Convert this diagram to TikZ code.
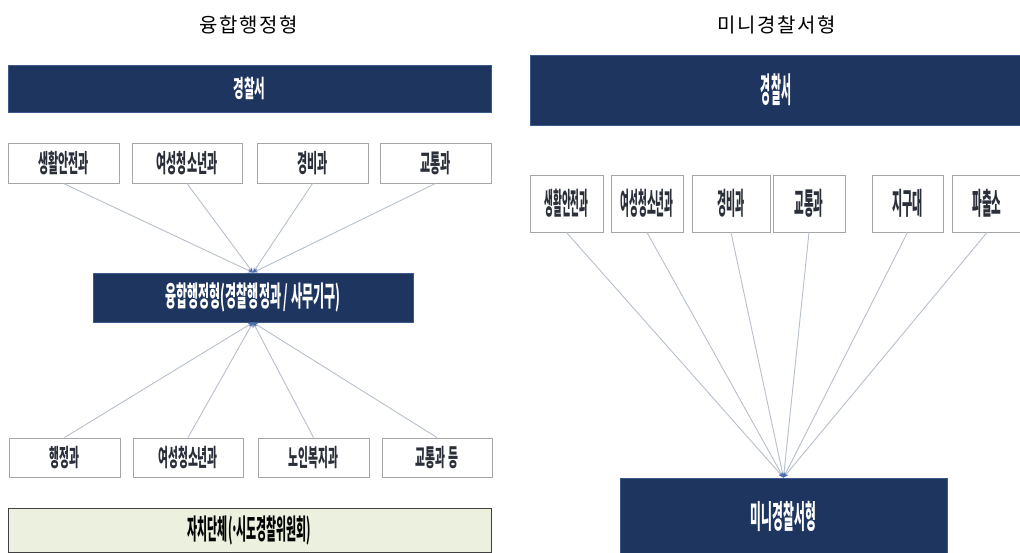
\documentclass[tikz,border=0pt]{standalone}
\usepackage{fontspec}
\usepackage{graphicx}
\newfontfamily\kr{Noto Sans CJK KR}
\usetikzlibrary{arrows.meta}
\definecolor{navy}{HTML}{1E355F}
\definecolor{navyedge}{HTML}{3A5A8C}
\definecolor{linkgray}{HTML}{B8C0CC}
\definecolor{tipblue}{HTML}{4A6FB5}
\definecolor{paleg}{HTML}{EBF1DE}
\definecolor{boxtext}{HTML}{2B2F3A}
\newcommand{\sq}[3]{\scalebox{#2}[1]{\fontsize{#1}{#1}\selectfont\kr\bfseries #3}}
\newcommand{\ttl}[1]{{\fontsize{20}{20}\selectfont\kr\addfontfeature{LetterSpace=8}#1}}
\tikzset{
  navybar/.style={rectangle, fill=navy, draw=navyedge, line width=0.8pt, text=white, inner sep=0pt},
  whitebox/.style={rectangle, draw=gray!70, fill=white, line width=0.9pt, inner sep=0pt, text=boxtext},
  greenbar/.style={rectangle, draw=black!75, fill=paleg, line width=1pt, inner sep=0pt, text=black},
  link/.style={draw=linkgray, line width=0.9pt, -{Stealth[length=5pt,width=4pt,color=tipblue]}},
  titletext/.style={inner sep=0pt, text=black}
}
\begin{document}
\begin{tikzpicture}[x=1pt,y=-1pt]
\useasboundingbox[fill=white] (0,0) rectangle (1020,553);
% ---------- left panel ----------
\node[titletext] (t1) at (249,25) {\ttl{융합행정형}};
\node[navybar, minimum width=483pt, minimum height=47pt] (ps1) at (249.5,88.5) {\sq{24}{0.48}{경찰서}};
\node[whitebox, minimum width=111pt, minimum height=40pt] (a1) at (63.5,163) {\sq{25}{0.44}{생활안전과}};
\node[whitebox, minimum width=110pt, minimum height=40pt] (a2) at (187,163) {\sq{25}{0.44}{여성청소년과}};
\node[whitebox, minimum width=111pt, minimum height=40pt] (a3) at (312.5,163) {\sq{25}{0.44}{경비과}};
\node[whitebox, minimum width=111pt, minimum height=40pt] (a4) at (435.5,163) {\sq{25}{0.44}{교통과}};
\node[navybar, minimum width=320pt, minimum height=49pt] (fus) at (253,297.5) {\sq{28}{0.43}{융합행정형(경찰행정과 / 사무기구)}};
\node[whitebox, minimum width=111pt, minimum height=39pt] (b1) at (64.5,457.5) {\sq{24}{0.45}{행정과}};
\node[whitebox, minimum width=110pt, minimum height=39pt] (b2) at (188,457.5) {\sq{24}{0.45}{여성청소년과}};
\node[whitebox, minimum width=111pt, minimum height=39pt] (b3) at (313.5,457.5) {\sq{24}{0.45}{노인복지과}};
\node[whitebox, minimum width=110pt, minimum height=39pt] (b4) at (437,457.5) {\sq{24}{0.45}{교통과 등}};
\node[greenbar, minimum width=483pt, minimum height=44pt] (gov) at (249.5,530.5) {\sq{28}{0.39}{자치단체(\kern-0.12em·\kern-0.12em시도경찰위원회)}};
\foreach \n in {a1,a2,a3,a4} \draw[link] (\n.south) -- (fus.north);
\foreach \n in {b1,b2,b3,b4} \draw[link] (\n.north) -- (fus.south);
% ---------- right panel ----------
\node[titletext] (t2) at (777,25) {\ttl{미니경찰서형}};
\node[navybar, minimum width=492pt, minimum height=70pt] (ps2) at (776,90) {\sq{34}{0.32}{경찰서}};
\node[whitebox, minimum width=73pt, minimum height=57pt] (c1) at (566.5,203.5) {\sq{30}{0.32}{생활안전과}};
\node[whitebox, minimum width=72pt, minimum height=57pt] (c2) at (647,203.5) {\sq{30}{0.32}{여성청소년과}};
\node[whitebox, minimum width=78pt, minimum height=57pt] (c3) at (731,203.5) {\sq{30}{0.33}{경비과}};
\node[whitebox, minimum width=72pt, minimum height=57pt] (c4) at (809,203.5) {\sq{30}{0.35}{교통과}};
\node[whitebox, minimum width=71pt, minimum height=57pt] (c5) at (907.5,203.5) {\sq{30}{0.37}{지구대}};
\node[whitebox, minimum width=70pt, minimum height=57pt] (c6) at (987,203.5) {\sq{30}{0.35}{파출소}};
\node[navybar, minimum width=327pt, minimum height=76pt] (mini) at (783.5,516) {\sq{32}{0.37}{미니경찰서형}};
\foreach \n in {c1,c2,c3,c4,c5,c6} \draw[link] (\n.south) -- (mini.north);
\end{tikzpicture}
\end{document}
